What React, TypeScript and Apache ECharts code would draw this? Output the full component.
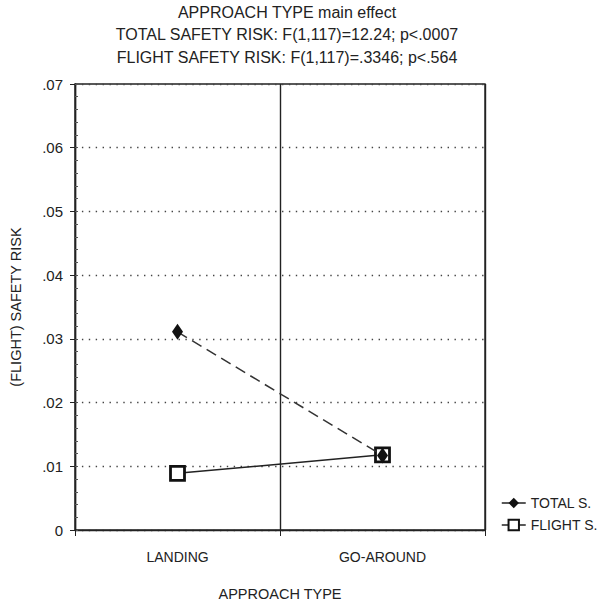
import React, { useEffect, useRef } from "react";
import * as echarts from "echarts";

const categories = ["LANDING", "GO-AROUND"];
const totalSafety = [0.0311, 0.0117];
const flightSafety = [0.0089, 0.0118];
const yTicks = [0, 0.01, 0.02, 0.03, 0.04, 0.05, 0.06, 0.07];
const titleLines = [
  "APPROACH TYPE main effect",
  "TOTAL SAFETY RISK: F(1,117)=12.24; p<.0007",
  "FLIGHT SAFETY RISK: F(1,117)=.3346; p<.564",
];
const seriesNames = ["TOTAL S.", "FLIGHT S."];

const FONT = "Liberation Sans";
const INK = "#222";

export default function App() {
  const ref = useRef<HTMLDivElement>(null);
  useEffect(() => {
    const chart = echarts.init(ref.current!, null, { renderer: "svg" });
    chart.setOption({
      animation: false,
      backgroundColor: "#fff",
      textStyle: { fontFamily: FONT, color: INK },
      title: {
        text: titleLines.join("\n"),
        left: 282,
        textAlign: "center",
        top: -4,
        textStyle: { fontFamily: FONT, fontSize: 16, fontWeight: "normal", color: INK, lineHeight: 22.5 },
      },
      legend: {
        orient: "vertical",
        left: 496,
        top: 491,
        itemWidth: 24,
        itemHeight: 13,
        itemGap: 8,
        textStyle: { fontFamily: FONT, fontSize: 14, color: INK },
        data: [
          { name: seriesNames[0], lineStyle: { type: "solid", width: 1.5, color: INK } },
          { name: seriesNames[1], lineStyle: { type: "solid", width: 1.5, color: INK } },
        ],
      },
      grid: {
        left: 75,
        top: 84,
        right: 118,
        bottom: 73,
        outerBoundsMode: "none",
        containLabel: false,
        show: true,
        borderColor: "#222",
        borderWidth: 1.4,
      },
      xAxis: {
        type: "category",
        data: categories,
        boundaryGap: true,
        name: "APPROACH TYPE",
        nameLocation: "middle",
        nameGap: 56,
        nameTextStyle: { fontFamily: FONT, fontSize: 14.5, color: INK },
        axisLine: { lineStyle: { color: "#222", width: 1.4 } },
        axisTick: { show: true, length: 6, lineStyle: { color: "#222" } },
        axisLabel: { fontFamily: FONT, fontSize: 14, color: INK, margin: 20 },
        splitLine: { show: true, lineStyle: { color: "#222", width: 1.4 } },
      },
      yAxis: [
        {
          type: "value",
          min: 0,
          max: 0.07,
          interval: 0.01,
          name: "(FLIGHT) SAFETY RISK",
          nameLocation: "middle",
          nameGap: 52,
          nameTextStyle: { fontFamily: FONT, fontSize: 14.5, color: INK },
          axisLine: { show: true, lineStyle: { color: "#222", width: 1.4 } },
          axisTick: { show: true, length: 5, lineStyle: { color: "#222" } },
          axisLabel: {
            fontFamily: FONT,
            fontSize: 15,
            color: INK,
            margin: 12,
            formatter: (v: number) => {
              const t = yTicks.find((x) => Math.abs(x - v) < 1e-9);
              const val = t === undefined ? v : t;
              return val === 0 ? "0" : val.toFixed(2).replace(/^0/, "");
            },
          },
          splitLine: {
            show: true,
            lineStyle: { color: "#444", width: 1.4, type: [1.4, 5.5] },
          },
        },
        {
          type: "value",
          min: 0,
          max: 0.07,
          interval: 0.002,
          position: "left",
          axisLine: { show: false },
          axisTick: { show: true, inside: true, length: 3, lineStyle: { color: "#555" } },
          axisLabel: { show: false },
          splitLine: { show: false },
        },
      ],
      series: [
        {
          name: seriesNames[1],
          type: "line",
          data: flightSafety,
          symbol: "rect",
          symbolSize: 14,
          itemStyle: { color: "#fff", borderColor: "#111", borderWidth: 2.8 },
          lineStyle: { color: "#222", width: 1.5, type: "solid" },
          z: 3,
        },
        {
          name: seriesNames[0],
          type: "line",
          data: totalSafety,
          symbol: "diamond",
          symbolSize: [11, 16],
          itemStyle: { color: "#111", borderColor: "#111", borderWidth: 0 },
          lineStyle: { color: "#333", width: 1.5, type: [11, 6] },
          z: 4,
        },
      ],
    });
    return () => chart.dispose();
  }, []);
  return (
    <div
      ref={ref}
      style={{ position: "fixed", left: 0, top: 0, width: 603, height: 603 }}
    />
  );
}
